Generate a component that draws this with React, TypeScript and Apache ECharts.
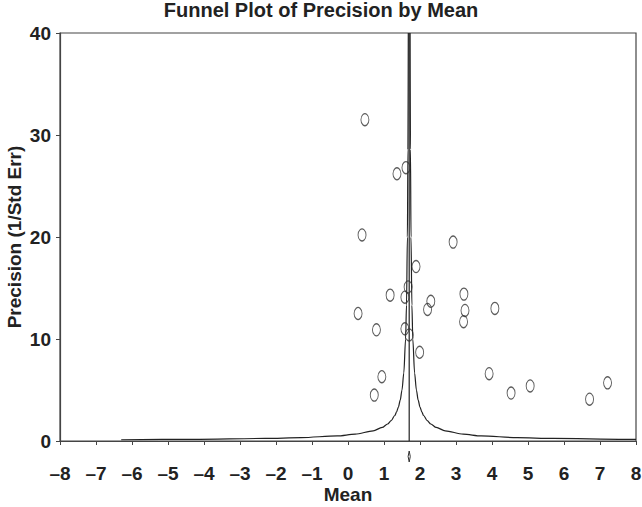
import React, { useEffect, useRef } from "react";
import * as echarts from "echarts";

const titleText = "Funnel Plot of Precision by Mean";
const xTicks = [-8, -7, -6, -5, -4, -3, -2, -1, 0, 1, 2, 3, 4, 5, 6, 7, 8];
const yTicks = [0, 10, 20, 30, 40];

// study points: mean, precision
const studyMean = [0.47, 1.61, 1.36, 0.39, 2.92, 1.89, 1.67, 1.17, 1.58, 3.22, 2.30, 2.21, 3.25, 4.08, 0.28, 3.21, 0.79, 1.58, 1.70, 1.99, 0.94, 3.92, 0.73, 4.53, 5.06, 6.71, 7.21];
const studyPrecision = [31.5, 26.8, 26.2, 20.2, 19.5, 17.1, 15.1, 14.3, 14.1, 14.4, 13.7, 12.9, 12.8, 13.0, 12.5, 11.7, 10.9, 11.0, 10.4, 8.7, 6.3, 6.6, 4.5, 4.7, 5.4, 4.1, 5.7];

// overall mean and its CI (diamond)
const overallMean = 1.70;
const overallLower = 1.67;
const overallUpper = 1.73;

// funnel curves
const funnelLeftX = [-6.3, -4.3, -2.3, -1.3, -0.3, 0.2, 0.7, 0.95, 1.1, 1.2, 1.3, 1.35, 1.4, 1.45, 1.5, 1.55, 1.6, 1.625, 1.65, 1.665, 1.675];
const funnelLeftY = [0.125, 0.167, 0.25, 0.333, 0.5, 0.667, 1.0, 1.333, 1.667, 2.0, 2.5, 2.857, 3.333, 4.0, 5.0, 6.667, 10, 13.33, 20, 28.6, 40];
const funnelRightX = [1.725, 1.735, 1.75, 1.775, 1.8, 1.85, 1.9, 1.95, 2.0, 2.05, 2.1, 2.2, 2.3, 2.45, 2.7, 3.2, 3.7, 4.7, 5.7, 7.7, 8.0];
const funnelRightY = [40, 28.6, 20, 13.33, 10, 6.667, 5.0, 4.0, 3.333, 2.857, 2.5, 2.0, 1.667, 1.333, 1.0, 0.667, 0.5, 0.333, 0.25, 0.167, 0.159];

const FONT = "'Liberation Sans', Arial, sans-serif";
const INK = "#222";

export default function App() {
  const ref = useRef<HTMLDivElement>(null);
  useEffect(() => {
    if (!ref.current) return;
    const chart = echarts.init(ref.current, undefined, { renderer: "svg" });
    const fmt = (v: number) => (v < 0 ? "\u2013" + Math.abs(v) : String(v));
    chart.setOption({
      animation: false,
      backgroundColor: "#fff",
      title: {
        text: titleText,
        left: "center",
        top: 0,
        padding: 0,
        textStyle: { fontFamily: FONT, fontWeight: "bold", fontSize: 20, color: INK },
      },
      grid: {
        left: 60,
        right: 6,
        top: 33,
        bottom: 66,
        containLabel: false,
        outerBoundsMode: "none",
        show: true,
        borderColor: "#444",
        borderWidth: 1.2,
        backgroundColor: "#fff",
      },
      xAxis: {
        type: "value",
        min: xTicks[0],
        max: xTicks[xTicks.length - 1],
        interval: 1,
        name: "Mean",
        nameLocation: "middle",
        nameGap: 44,
        nameMoveOverlap: false,
        nameTextStyle: { fontFamily: FONT, fontWeight: "bold", fontSize: 19, color: INK },
        axisLine: { show: true, onZero: false, lineStyle: { color: "#444", width: 1.2 } },
        axisTick: { show: true, length: 4, lineStyle: { color: "#444" } },
        axisLabel: { margin: 23, fontFamily: FONT, fontWeight: "bold", fontSize: 19, color: INK, formatter: fmt },
        splitLine: { show: false },
      },
      yAxis: {
        type: "value",
        min: yTicks[0],
        max: yTicks[yTicks.length - 1],
        interval: 10,
        name: "Precision (1/Std Err)",
        nameLocation: "middle",
        nameGap: 36,
        nameMoveOverlap: false,
        nameTextStyle: { fontFamily: FONT, fontWeight: "bold", fontSize: 19, color: INK },
        axisLine: { show: true, onZero: false, lineStyle: { color: "#444", width: 1.2 } },
        axisTick: { show: true, length: 4, lineStyle: { color: "#444" } },
        axisLabel: { margin: 9, fontFamily: FONT, fontWeight: "bold", fontSize: 19, color: INK },
        splitLine: { show: false },
      },
      series: [
        {
          type: "line",
          data: funnelLeftX.map((x, i) => [x, funnelLeftY[i]]),
          showSymbol: false,
          smooth: 0.3,
          smoothMonotone: "x",
          lineStyle: { color: INK, width: 1.2 },
          z: 2,
        },
        {
          type: "line",
          data: funnelRightX.map((x, i) => [x, funnelRightY[i]]),
          showSymbol: false,
          smooth: 0.3,
          smoothMonotone: "x",
          lineStyle: { color: INK, width: 1.2 },
          z: 2,
        },
        {
          type: "line",
          data: [[overallMean, yTicks[0]], [overallMean, yTicks[yTicks.length - 1]]],
          showSymbol: false,
          lineStyle: { color: INK, width: 1.2 },
          z: 2,
        },
        {
          type: "scatter",
          data: studyMean.map((x, i) => [x, studyPrecision[i]]),
          symbol: "circle",
          symbolSize: [8, 12],
          itemStyle: { color: "rgba(255,255,255,0)", borderColor: "#333", borderWidth: 1.1 },
          z: 3,
        },
        {
          type: "custom",
          clip: false,
          data: [[overallMean, overallLower, overallUpper]],
          renderItem: (params: any, api: any) => {
            const c = api.coord([api.value(0), 0]);
            const l = api.coord([api.value(1), 0]);
            const r = api.coord([api.value(2), 0]);
            const top = c[1] + 10;
            const bot = c[1] + 21;
            const mid = (top + bot) / 2;
            return {
              type: "polygon",
              shape: { points: [[c[0], top], [r[0], mid], [c[0], bot], [l[0], mid]] },
              style: { fill: "#fff", stroke: "#333", lineWidth: 1 },
            };
          },
          z: 4,
        },
      ],
    });
    return () => chart.dispose();
  }, []);
  return (
    <div
      ref={ref}
      style={{ position: "absolute", left: 0, top: 0, width: 642, height: 507 }}
    />
  );
}
